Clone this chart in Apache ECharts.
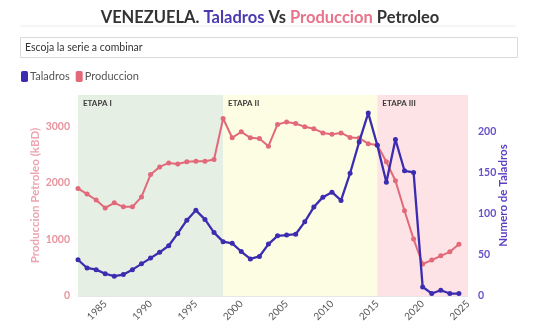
<!DOCTYPE html>
<html>
<head>
<meta charset="utf-8">
<script src="https://cdn.jsdelivr.net/npm/echarts@6/dist/echarts.min.js"></script>
<style>
  html, body { margin: 0; padding: 0; background: #fff; }
  #chart { width: 540px; height: 330px; }
</style>
</head>
<body>
<div id="chart"></div>
<script>
// Years on the x axis (last one only closes the axis range)
const years = [];
for (let y = 1982; y <= 2025; y++) years.push(String(y));

// Oil production, thousand barrels per day, 1982-2024
const produccion = [
  1900, 1800, 1695, 1555, 1645, 1575, 1575, 1750, 2145, 2280,
  2350, 2330, 2370, 2380, 2380, 2410, 3135, 2795, 2900, 2795,
  2780, 2645, 3030, 3075, 3045, 2990, 2955, 2880, 2855, 2880,
  2800, 2790, 2690, 2665, 2370, 2035, 1505, 1005, 565, 635,
  710, 780, 915
];

// Active drilling rigs, 1982-2024
const taladros = [
  44, 34, 32, 27, 24, 26, 32, 39, 46, 53,
  61, 76, 92, 104, 93, 77, 66, 64, 54, 45,
  48, 63, 73, 74, 75, 90, 108, 120, 126, 116,
  149, 187, 222, 183, 138, 190, 152, 150, 11, 3,
  7, 3, 3
];

// Historical stages shaded behind the lines
const etapas = [
  { name: 'ETAPA I', from: '1982', to: '1998', color: '#e6efe4' },
  { name: 'ETAPA II', from: '1998', to: '2015', color: '#fdfde4' },
  { name: 'ETAPA III', from: '2015', to: '2025', color: '#fde3e5' }
];

const colProd = '#e2697a';
const colTal = '#3b2cb0';

const chart = echarts.init(document.getElementById('chart'), null, { renderer: 'canvas' });

chart.setOption({
  animation: false,
  textStyle: { fontFamily: 'Lato' },
  title: {
    left: 'center',
    top: 4,
    text: '{a|VENEZUELA. }{b|Taladros}{a| Vs }{c|Produccion}{a| Petroleo}',
    textStyle: {
      rich: {
        a: { fontFamily: 'Lato', fontWeight: 'bold', fontSize: 16.5, color: '#333333' },
        b: { fontFamily: 'Lato', fontWeight: 'bold', fontSize: 16.5, color: '#4a3aae' },
        c: { fontFamily: 'Lato', fontWeight: 'bold', fontSize: 16.5, color: '#e8738a' }
      }
    }
  },
  graphic: [
    { type: 'line', shape: { x1: 20, y1: 26, x2: 516, y2: 26 },
      style: { stroke: '#ececec', lineWidth: 1 } },
    { type: 'rect', shape: { x: 20.5, y: 37.5, width: 497, height: 20 },
      style: { fill: '#ffffff', stroke: '#dadada', lineWidth: 1 } },
    { type: 'text', left: 25, top: 42,
      style: { text: 'Escoja la serie a combinar', fill: '#333333', font: '10.5px Lato' } }
  ],
  legend: {
    left: 16,
    top: 66,
    itemWidth: 7,
    itemHeight: 11,
    itemGap: 6,
    icon: 'roundRect',
    textStyle: { fontFamily: 'Lato', fontSize: 11, color: '#555555', padding: [0, 0, 0, -3] },
    data: ['Taladros', 'Produccion']
  },
  grid: { left: 78, right: 72, top: 95, bottom: 34 },
  xAxis: {
    type: 'category',
    data: years,
    boundaryGap: false,
    axisLine: { show: false },
    axisTick: { show: false },
    splitLine: { show: false },
    axisLabel: {
      rotate: 45,
      color: '#555555',
      fontSize: 10,
      fontFamily: 'Lato',
      margin: 6,
      interval: (i, v) => Number(v) % 5 === 0
    }
  },
  yAxis: [
    {
      type: 'value',
      min: 0,
      max: 3550,
      interval: 1000,
      name: 'Produccion Petroleo (kBD)',
      nameLocation: 'middle',
      nameGap: 37,
      nameMoveOverlap: false,
      nameTextStyle: { color: '#eba5b0', fontSize: 11.5, fontFamily: 'Lato', fontWeight: 'bold' },
      axisLine: { show: false },
      axisTick: { show: false },
      axisLabel: {
        color: '#e8949f', fontSize: 10.5, fontWeight: 'bold', showMaxLabel: false, margin: 8,
        formatter: v => String(v)
      },
      splitLine: { lineStyle: { color: '#e6e6e6', width: 1 } }
    },
    {
      type: 'value',
      min: 0,
      max: 244,
      interval: 50,
      name: 'Numero de Taladros',
      nameLocation: 'middle',
      nameGap: 29,
      nameMoveOverlap: false,
      nameRotate: 90,
      nameTextStyle: { color: '#5b3fc4', fontSize: 11.5, fontFamily: 'Lato', fontWeight: 'bold' },
      axisLine: { show: false },
      axisTick: { show: false },
      axisLabel: { color: '#6a50c8', fontSize: 10.5, fontWeight: 'bold', showMaxLabel: false, margin: 10 },
      splitLine: { show: false }
    }
  ],
  series: [
    {
      name: 'Produccion',
      type: 'line',
      yAxisIndex: 0,
      data: produccion,
      color: colProd,
      symbol: 'circle',
      symbolSize: 5,
      lineStyle: { width: 2, color: colProd },
      itemStyle: { color: colProd },
      z: 3,
      markArea: {
        silent: true,
        z: 0,
        label: {
          position: 'insideTopLeft',
          color: '#3a3a3a',
          fontSize: 8,
          fontWeight: 'bold',
          fontFamily: 'Lato',
          offset: [0, -1]
        },
        data: etapas.map(e => [
          { name: e.name, xAxis: e.from, itemStyle: { color: e.color } },
          { xAxis: e.to }
        ])
      }
    },
    {
      name: 'Taladros',
      type: 'line',
      yAxisIndex: 1,
      data: taladros,
      color: colTal,
      symbol: 'circle',
      symbolSize: 5,
      lineStyle: { width: 2.3, color: colTal },
      itemStyle: { color: colTal },
      z: 4
    }
  ]
});
</script>
</body>
</html>
